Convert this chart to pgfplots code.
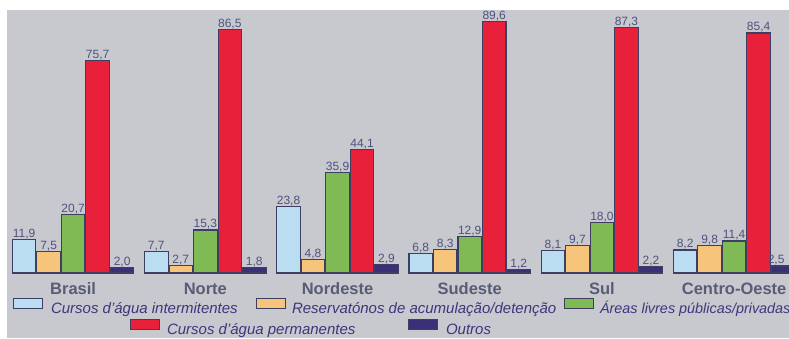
\documentclass[border=0pt]{standalone}
\usepackage{pgfplots}
\pgfplotsset{compat=1.18}
\usepackage{pgfplotstable}
\usepackage{fontspec}
\setmainfont{Liberation Sans}
\definecolor{bg}{RGB}{200,201,207}
\definecolor{cblue}{RGB}{186,221,242}
\definecolor{corange}{RGB}{246,196,122}
\definecolor{cgreen}{RGB}{128,186,84}
\definecolor{cred}{RGB}{233,32,58}
\definecolor{cpurple}{RGB}{58,48,120}
\definecolor{edge}{RGB}{60,62,98}
\definecolor{valc}{RGB}{78,82,125}
\definecolor{labc}{RGB}{88,92,118}
\definecolor{legc}{RGB}{58,55,125}

\pgfplotstableread{
x int res are per out
0 11.9 7.5 20.7 75.7 2.0
1 7.7 2.7 15.3 86.5 1.8
2 23.8 4.8 35.9 44.1 2.9
3 6.8 8.3 12.9 89.6 1.2
4 8.1 9.7 18.0 87.3 2.2
5 8.2 9.8 11.4 85.4 2.5
}\datatable

\pgfplotsset{
  mylegend/.style={
    legend image code/.code={\draw[##1, line width=1pt] (0pt,-0.5pt) rectangle (29pt,10pt);},
    legend cell align=left,
    legend style={draw=none, fill=none, inner sep=0pt, outer sep=0pt, column sep=0pt,
      nodes={inner sep=0pt, font=\fontsize{15}{15}\selectfont\itshape, text=legc}},
  }
}

\begin{document}
\begin{tikzpicture}[x=1pt,y=1pt]
\fill[white] (0,0) rectangle (789,338);
\fill[bg] (7,0) rectangle (789,328);
\begin{axis}[
  at={(7pt,65pt)}, anchor=south west,
  scale only axis, width=782pt, height=263pt,
  xmin=-0.5, xmax=5.415, ymin=0, ymax=93.6,
  clip=false,
  axis line style={draw=none},
  tick style={draw=none},
  ytick=\empty,
  xtick={0,...,5},
  xticklabels={Brasil,Norte,Nordeste,Sudeste,Sul,Centro-Oeste},
  xticklabel style={anchor=base, yshift=-17pt, inner sep=0pt,
    font=\fontsize{16.5}{16.5}\selectfont\bfseries, text=labc},
  ybar, bar width=23.5pt,
  every axis plot/.append style={draw=edge, line width=1.1pt},
  nodes near coords,
  every node near coord/.append style={font=\fontsize{12}{12}\selectfont, text=valc,
    anchor=south, inner sep=0.5pt, line width=0pt},
  /pgf/number format/.cd, use comma, fixed, fixed zerofill, precision=1, assume math mode=true,
  /pgfplots/.cd,
  mylegend,
  legend columns=3,
  legend style={at={(axis description cs:0.00767,-0.0932)}, anchor=north west},
]
\addplot[fill=cblue, bar shift=-49pt] table[x=x, y=int] {\datatable};
\addlegendentry{\hspace{8pt}\makebox[205pt][l]{\vphantom{Áp}Cursos d'água intermitentes}}
\addplot[fill=corange, bar shift=-24.5pt] table[x=x, y=res] {\datatable};
\addlegendentry{\hspace{6pt}\makebox[272pt][l]{\vphantom{Áp}Reservatónos de acumulação/detenção}}
\addplot[fill=cgreen, bar shift=0pt] table[x=x, y=are] {\datatable};
\addlegendentry{\hspace{6pt}{\fontsize{14.4}{15}\selectfont\vphantom{Áp}Áreas livres públicas/privadas}}
\addplot[fill=cred, bar shift=24.5pt] table[x=x, y=per] {\datatable};
\addplot[fill=cpurple, bar shift=49pt,
  visualization depends on={\thisrow{x} \as \xv},
  nodes near coords style={xshift={-7*(\xv>4.5)}}] table[x=x, y=out] {\datatable};
\end{axis}
\begin{axis}[
  at={(7pt,65pt)}, anchor=south west,
  scale only axis, width=782pt, height=263pt,
  hide axis, xmin=0, xmax=1, ymin=0, ymax=1,
  mylegend,
  legend columns=2,
  legend style={at={(axis description cs:0.1573,-0.1730)}, anchor=north west},
]
\addlegendimage{fill=cred, draw=edge}
\addlegendentry{\hspace{7pt}\makebox[241pt][l]{\vphantom{Áp}Cursos d'água permanentes}}
\addlegendimage{fill=cpurple, draw=edge}
\addlegendentry{\hspace{8pt}\vphantom{Áp}Outros}
\end{axis}
\pgfresetboundingbox
\useasboundingbox (0,0) rectangle (789,338);
\end{tikzpicture}
\end{document}
